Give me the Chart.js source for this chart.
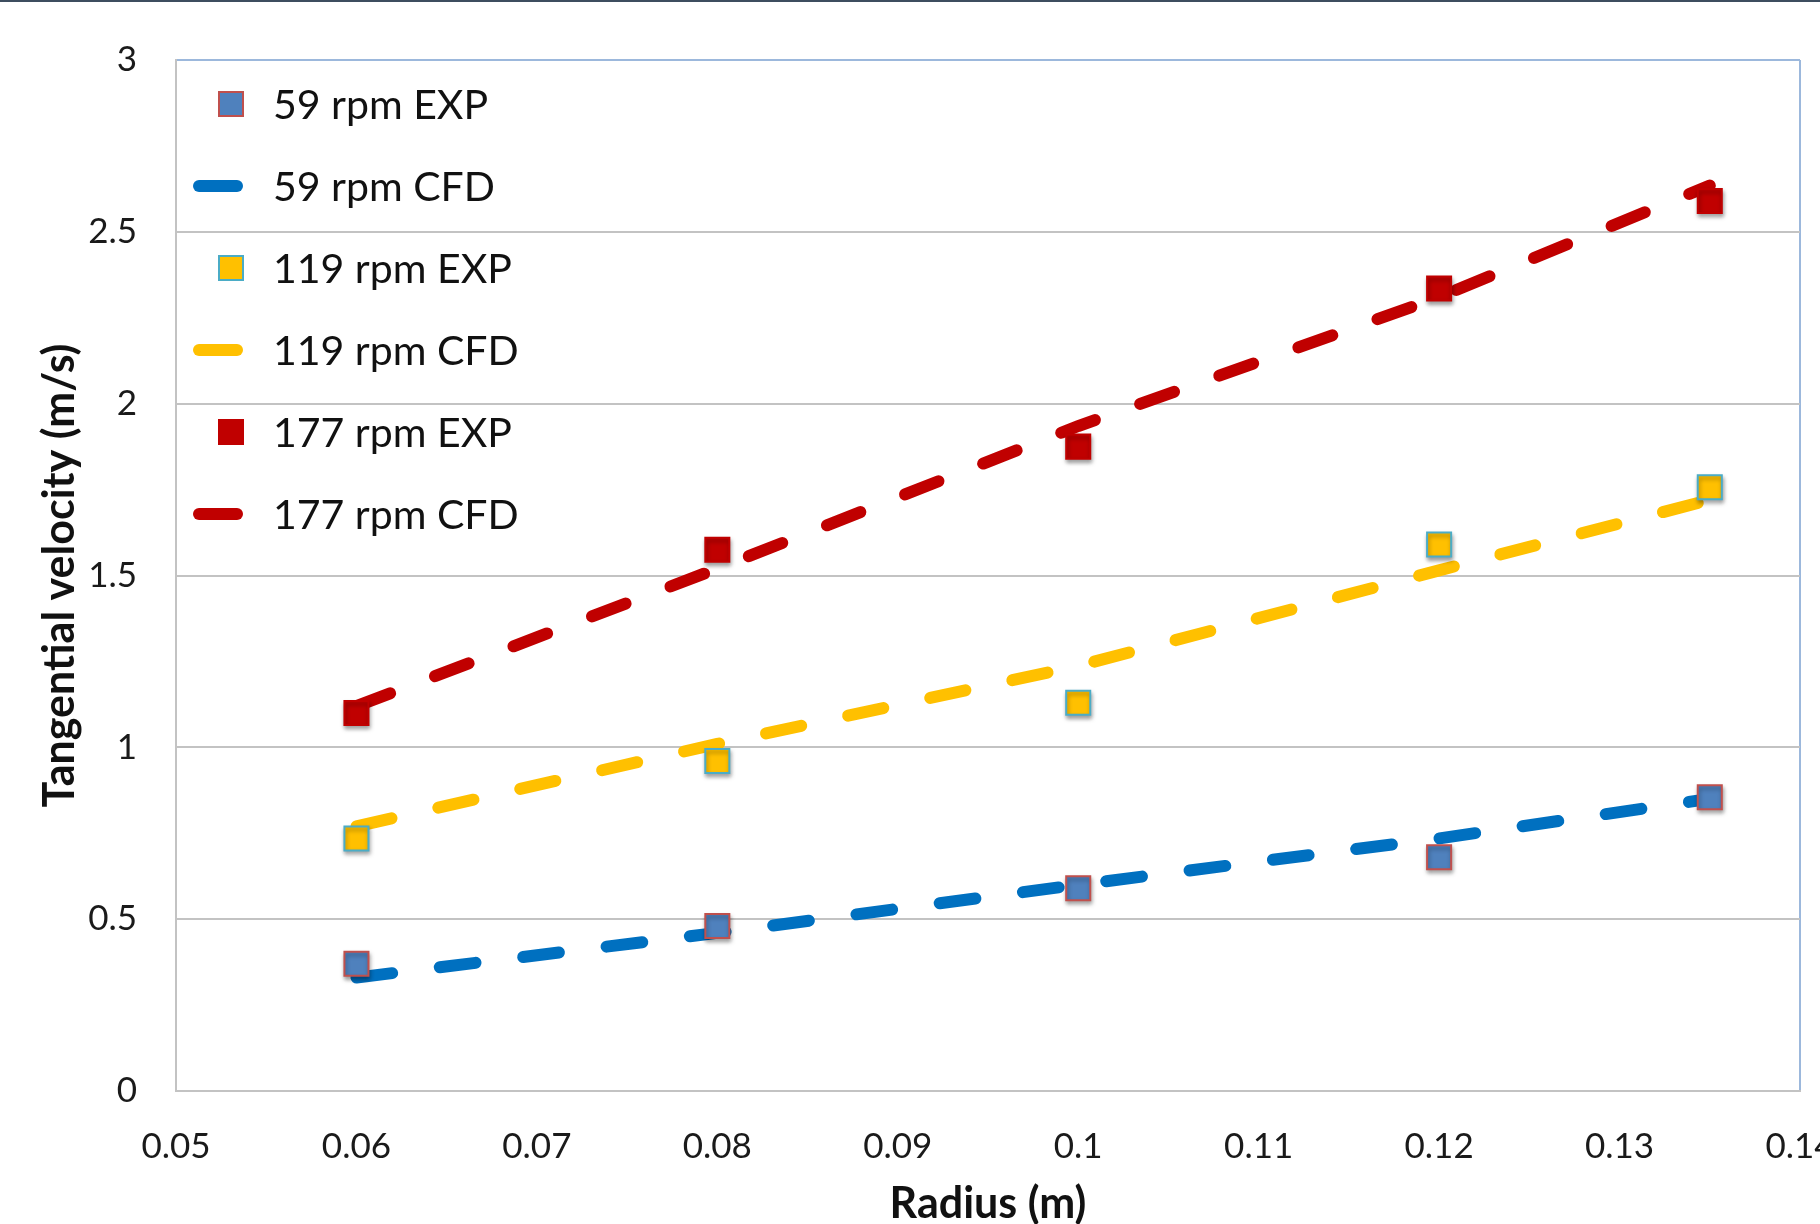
<!DOCTYPE html>
<html lang="en">
<head>
  <meta charset="UTF-8">
  <title>Tangential velocity vs radius</title>
  <style>
    html, body {
      margin: 0;
      padding: 0;
      background: #fff;
      overflow: hidden;
    }
    #wrap {
      position: relative;
      width: 1820px;
      height: 1224px;
      overflow: hidden;
    }
    #topline {
      position: absolute;
      left: 0;
      top: 0;
      width: 1820px;
      height: 2px;
      background: #3d4d5f;
    }
    canvas { display: block; }
  </style>
  <script src="https://cdn.jsdelivr.net/npm/chart.js"></script>
</head>
<body>
  <div id="wrap">
    <canvas id="chart" width="1880" height="1260"></canvas>
    <div id="topline"></div>
  </div>

  <script>
    // radius positions (m)
    const radius = [0.06, 0.08, 0.1, 0.12, 0.135];

    // tangential velocity (m/s)
    const exp59  = [0.37, 0.48, 0.59, 0.68, 0.855];
    const cfd59  = [0.33, 0.46, 0.60, 0.735, 0.85];
    const exp119 = [0.735, 0.96, 1.13, 1.59, 1.757];
    const cfd119 = [0.77, 1.01, 1.237, 1.515, 1.72];
    const exp177 = [1.10, 1.575, 1.875, 2.335, 2.59];
    const cfd177 = [1.12, 1.52, 1.935, 2.31, 2.635];

    const seriesNames = ['59 rpm EXP', '59 rpm CFD', '119 rpm EXP', '119 rpm CFD', '177 rpm EXP', '177 rpm CFD'];

    const xMin = 0.05, xMax = 0.14, xStep = 0.01;
    const yMin = 0, yMax = 3, yStep = 0.5;

    const FONT = 'Lato, "Open Sans", sans-serif';

    function pts(ys) {
      return radius.map((r, i) => ({ x: r, y: ys[i] }));
    }

    function expSet(label, data, fill, edge) {
      return {
        label: label,
        data: pts(data),
        showLine: false,
        pointStyle: 'rect',
        pointRadius: 17,
        pointHoverRadius: 17,
        pointBackgroundColor: fill,
        pointBorderColor: edge,
        pointBorderWidth: 2,
        backgroundColor: fill,
        borderColor: edge,
        order: 0,
        isExp: true
      };
    }

    function cfdSet(label, data, color) {
      return {
        label: label,
        data: pts(data),
        showLine: true,
        pointRadius: 0,
        pointHoverRadius: 0,
        borderColor: color,
        backgroundColor: color,
        borderWidth: 12,
        borderDash: [36, 48],
        borderCapStyle: 'round',
        tension: 0,
        order: 1
      };
    }

    const datasets = [
      expSet(seriesNames[0], exp59, '#4f81bd', '#c0504d'),
      cfdSet(seriesNames[1], cfd59, '#0070c0'),
      expSet(seriesNames[2], exp119, '#ffc000', '#4bacc6'),
      cfdSet(seriesNames[3], cfd119, '#ffc000'),
      expSet(seriesNames[4], exp177, '#c00000', '#c00000'),
      cfdSet(seriesNames[5], cfd177, '#c00000')
    ];

    // soft drop shadow under the square markers
    const markerShadow = {
      id: 'markerShadow',
      beforeDatasetDraw(chart, args) {
        if (!chart.data.datasets[args.index].isExp) return;
        const ctx = chart.ctx;
        ctx.save();
        ctx.shadowColor = 'rgba(0,0,0,0.35)';
        ctx.shadowBlur = 4;
        ctx.shadowOffsetX = 1;
        ctx.shadowOffsetY = 3;
      },
      afterDatasetDraw(chart, args) {
        if (!chart.data.datasets[args.index].isExp) return;
        chart.ctx.restore();
      }
    };

    // legend sits inside the plot area, top-left, one entry per row
    const insideLegend = {
      id: 'insideLegend',
      afterDraw(chart) {
        const ctx = chart.ctx;
        const area = chart.chartArea;
        const symX = area.left + 55;
        const textX = area.left + 97;
        const rowH = 82;
        const size = 41;
        ctx.save();
        ctx.font = size + 'px ' + FONT;
        ctx.textAlign = 'left';
        ctx.textBaseline = 'alphabetic';
        chart.data.datasets.forEach((ds, i) => {
          const cy = area.top + 44 + i * rowH;
          if (ds.isExp) {
            ctx.fillStyle = ds.pointBackgroundColor;
            ctx.strokeStyle = ds.pointBorderColor;
            ctx.lineWidth = 2;
            ctx.fillRect(symX - 12, cy - 12, 24, 24);
            ctx.strokeRect(symX - 12, cy - 12, 24, 24);
          } else {
            ctx.strokeStyle = ds.borderColor;
            ctx.lineWidth = 12;
            ctx.lineCap = 'round';
            ctx.setLineDash([]);
            ctx.beginPath();
            ctx.moveTo(symX - 32, cy);
            ctx.lineTo(symX + 6, cy);
            ctx.stroke();
          }
          ctx.fillStyle = '#111';
          ctx.fillText(ds.label, textX, cy + 0.36 * size);
        });
        ctx.restore();
      }
    };

    function fmt(v) {
      return String(Number(v.toFixed(3)));
    }

    new Chart(document.getElementById('chart').getContext('2d'), {
      type: 'scatter',
      data: { datasets: datasets },
      plugins: [markerShadow, insideLegend],
      options: {
        responsive: false,
        animation: false,
        devicePixelRatio: 1,
        layout: { padding: { left: 0, top: 59, right: 80, bottom: 0 } },
        plugins: {
          legend: { display: false },
          tooltip: { enabled: false }
        },
        scales: {
          x: {
            type: 'linear',
            min: xMin,
            max: xMax,
            afterFit(scale) { scale.height = 169; },
            ticks: {
              stepSize: xStep,
              padding: 35,
              color: '#1a1a1a',
              font: { family: FONT, size: 35 },
              maxRotation: 0,
              autoSkip: false,
              callback: (v) => fmt(v)
            },
            grid: {
              drawTicks: false,
              lineWidth: 2,
              color: (c) => Math.abs(c.tick.value - xMax) < 1e-6 ? '#9cb8dc' : 'rgba(0,0,0,0)'
            },
            border: { display: true, color: '#c3c3c3', width: 2 },
            title: {
              display: true,
              text: 'Radius (m)',
              color: '#111',
              font: { family: FONT, size: 43, weight: 'bold' },
              padding: { top: 0, bottom: 30 }
            }
          },
          y: {
            type: 'linear',
            min: yMin,
            max: yMax,
            afterFit(scale) { scale.width = 176; },
            ticks: {
              stepSize: yStep,
              padding: 39,
              color: '#1a1a1a',
              font: { family: FONT, size: 35 },
              callback: (v) => fmt(v)
            },
            grid: {
              drawTicks: false,
              lineWidth: 2,
              color: (c) => Math.abs(c.tick.value - yMax) < 1e-6 ? '#9cb8dc' : '#c3c3c3'
            },
            border: { display: true, color: '#c3c3c3', width: 2 },
            title: {
              display: true,
              text: 'Tangential velocity (m/s)',
              color: '#111',
              font: { family: FONT, size: 43, weight: 'bold' },
              padding: { top: 34, bottom: 0 }
            }
          }
        }
      }
    });
  </script>
</body>
</html>
